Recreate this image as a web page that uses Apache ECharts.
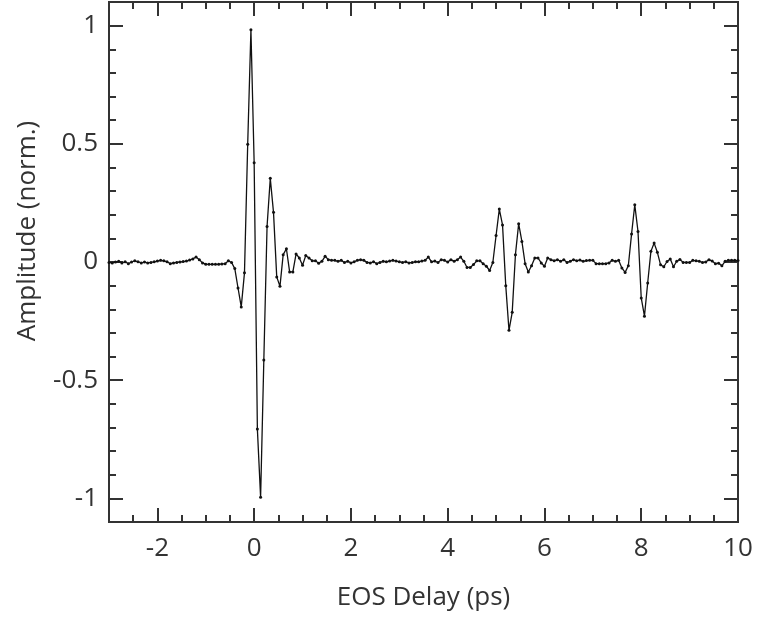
<!DOCTYPE html>
<html>
<head>
<meta charset="utf-8">
<script src="https://cdn.jsdelivr.net/npm/echarts@6/dist/echarts.min.js"></script>
<style>html,body{margin:0;padding:0;background:#fff;}#chart{width:758px;height:621px;}</style>
</head>
<body>
<div id="chart"></div>
<script>
// Sampling of the EOS delay axis (ps)
const delayStart = -3;
const delayStep = 1 / 15;
// Normalized amplitude at each delay sample
const amplitude = [
  -0.002, -0.004, 0.0, 0.003, -0.004, 0.001, -0.007, 0.0, 0.005, 0.001,
  -0.004, 0.0, -0.004, -0.002, 0.001, 0.004, 0.007, 0.005, 0.001, -0.007,
  -0.004, -0.002, 0.0, 0.002, 0.004, 0.008, 0.013, 0.021, 0.01, -0.004,
  -0.009, -0.01, -0.01, -0.01, -0.01, -0.008, -0.007, 0.005, -0.002, -0.028,
  -0.11, -0.19, -0.046, 0.498, 0.983, 0.42, -0.707, -0.995, -0.415, 0.15,
  0.354, 0.21, -0.063, -0.103, 0.031, 0.056, -0.042, -0.042, 0.034, 0.017,
  -0.014, 0.027, 0.017, 0.005, 0.005, -0.005, 0.003, 0.024, 0.01, 0.007,
  0.007, 0.003, 0.007, -0.002, 0.003, -0.004, 0.001, 0.007, 0.01, 0.007,
  -0.002, -0.004, 0.001, -0.007, -0.002, 0.003, 0.001, 0.004, 0.007, 0.004,
  0.001, -0.002, 0.001, -0.004, -0.002, 0.001, 0.001, 0.004, 0.007, 0.021,
  0.001, 0.004, -0.002, 0.01, 0.007, 0.0, 0.01, 0.003, 0.01, 0.021,
  0.003, -0.023, -0.023, -0.011, 0.005, 0.005, -0.007, -0.018, -0.036, -0.002,
  0.112, 0.224, 0.157, -0.1, -0.289, -0.213, 0.031, 0.162, 0.087, -0.007,
  -0.042, -0.016, 0.017, 0.017, -0.004, -0.018, 0.017, 0.01, 0.005, 0.01,
  0.003, 0.01, -0.002, 0.003, 0.01, 0.005, 0.008, 0.003, 0.006, 0.007,
  0.007, -0.007, -0.007, -0.007, -0.007, -0.004, 0.007, 0.003, 0.007, -0.025,
  -0.044, -0.016, 0.118, 0.242, 0.129, -0.152, -0.229, -0.089, 0.045, 0.08,
  0.041, -0.012, -0.02, 0.002, 0.013, -0.02, 0.003, 0.011, -0.002, -0.002,
  -0.002, 0.007, 0.005, 0.003, -0.002, 0.0, 0.01, 0.004, -0.007, -0.005,
  -0.016, 0.003, 0.007, 0.007, 0.007, 0.006
];
const xMajorTicks = [-2, 0, 2, 4, 6, 8, 10];
const yMajorTicks = [-1, -0.5, 0, 0.5, 1];
const xTitle = 'EOS Delay (ps)';
const yTitle = 'Amplitude (norm.)';

const points = amplitude.map((v, i) => [delayStart + i * delayStep, v]);

const ink = '#333';
const font = 'Open Sans';
const labelSize = 26;

function xAx(position, major, showLabel) {
  const ax = {
    type: 'value', position: position, min: -3, max: 10, interval: 0.5,
    gridIndex: 0,
    splitLine: { show: false },
    axisLine: { show: true, onZero: false, lineStyle: { color: ink, width: 2 } },
    axisTick: { show: true, inside: true, length: major ? 14 : 7, lineStyle: { color: ink, width: 2 } },
    axisLabel: { show: false }
  };
  if (major) {
    ax.axisTick.customValues = xMajorTicks;
    ax.axisLabel = showLabel ? {
      show: true, customValues: xMajorTicks, color: ink, fontFamily: font, fontSize: labelSize, margin: 14
    } : { show: false };
  }
  return ax;
}
function yAx(position, major, showLabel) {
  const ax = {
    type: 'value', position: position, min: -1.1, max: 1.1, interval: 0.1,
    gridIndex: 0,
    splitLine: { show: false },
    axisLine: { show: true, onZero: false, lineStyle: { color: ink, width: 2 } },
    axisTick: { show: true, inside: true, length: major ? 14 : 7, lineStyle: { color: ink, width: 2 } },
    axisLabel: { show: false }
  };
  if (major) {
    ax.axisTick.customValues = yMajorTicks;
    ax.axisLabel = showLabel ? {
      show: true, customValues: yMajorTicks, color: ink, fontFamily: font, fontSize: labelSize, margin: 11
    } : { show: false };
  }
  return ax;
}

const xAxes = [xAx('bottom', false), xAx('bottom', true, true), xAx('top', false), xAx('top', true, false)];
xAxes[1].name = xTitle;
xAxes[1].nameLocation = 'middle';
xAxes[1].nameGap = 63;
xAxes[1].nameTextStyle = { color: ink, fontFamily: font, fontSize: 26 };
const yAxes = [yAx('left', false), yAx('left', true, true), yAx('right', false), yAx('right', true, false)];

const chart = echarts.init(document.getElementById('chart'), null, { renderer: 'canvas' });
chart.setOption({
  animation: false,
  backgroundColor: '#fff',
  grid: { left: 109, right: 20, top: 2, bottom: 99, containLabel: false },
  xAxis: xAxes,
  yAxis: yAxes,
  graphic: [{
    type: 'text',
    x: 28, y: 231,
    rotation: Math.PI / 2,
    style: {
      text: yTitle, fill: ink, fontFamily: font, fontSize: 26,
      align: 'center', verticalAlign: 'middle'
    }
  }],
  series: [{
    type: 'line',
    xAxisIndex: 0, yAxisIndex: 0,
    data: points,
    symbol: 'circle', symbolSize: 3,
    itemStyle: { color: '#111' },
    lineStyle: { color: '#111', width: 1.3 },
    silent: true
  }]
});
</script>
</body>
</html>
